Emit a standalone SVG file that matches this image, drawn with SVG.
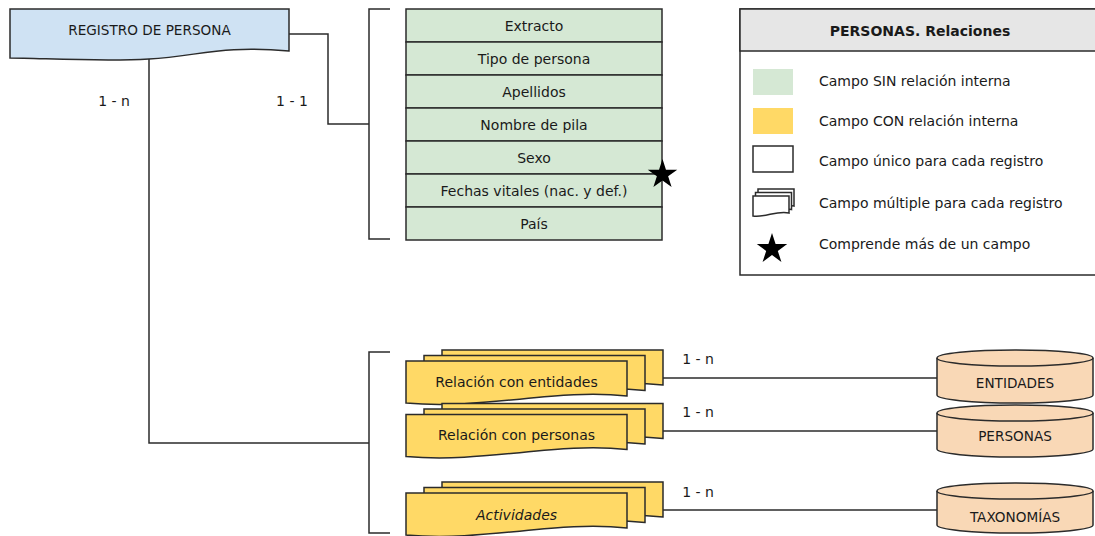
<svg xmlns="http://www.w3.org/2000/svg" width="1095" height="536" viewBox="0 0 1095 536">
<style>
text{font-family:"DejaVu Sans",Verdana,sans-serif;font-size:14px;fill:#1a1a1a}
.cap{font-size:13.6px}
.c{text-anchor:middle}
.ln{fill:none;stroke:#2b2b2b;stroke-width:1.5}
.sh{stroke:#2b2b2b;stroke-width:1.5}
.g{fill:#d5e8d4}
.y{fill:#ffd966}
.o{fill:#f9d8b6}
.b{fill:#cfe2f3}
</style>
<defs>
<path id="doc" d="M0,0 H221 V35 C150,27 80,49 0,42 Z"/>
<path id="mini" d="M0,0 H36 V17 C24,14 12,22 0,20 Z"/>
<path id="star" d="M0,-1 L0.2245,-0.309 L0.9511,-0.309 L0.3633,0.118 L0.5878,0.809 L0,0.382 L-0.5878,0.809 L-0.3633,0.118 L-0.9511,-0.309 L-0.2245,-0.309 Z"/>
</defs>
<rect width="1095" height="536" fill="#fff"/>

<g id="connectors">
<path class="ln" d="M289,34 H328 V124 H369"/>
<path class="ln" d="M149,59 V443 H369"/>
<path class="ln" d="M662,378 H937"/>
<path class="ln" d="M662,431 H937"/>
<path class="ln" d="M662,510 H937"/>
<text class="c" x="114" y="106">1 - n</text>
<text class="c" x="292" y="106">1 - 1</text>
<text class="c" x="698" y="364">1 - n</text>
<text class="c" x="698" y="417">1 - n</text>
<text class="c" x="698" y="497">1 - n</text>
</g>

<g id="registro">
<path class="b sh" d="M10,9 H289 V51 C220,45 200,56 149,59 C100,62 40,58 10,58 Z"/>
<text class="c cap" x="149.5" y="35">REGISTRO DE PERSONA</text>
</g>

<g id="bracket-top"><path class="ln" d="M390,9 H369 V239 H390"/></g>
<g id="bracket-bottom"><path class="ln" d="M390,352 H369 V533 H390"/></g>

<g id="campos">
<rect class="g sh" x="406" y="9" width="256" height="33"/>
<rect class="g sh" x="406" y="42" width="256" height="33"/>
<rect class="g sh" x="406" y="75" width="256" height="33"/>
<rect class="g sh" x="406" y="108" width="256" height="33"/>
<rect class="g sh" x="406" y="141" width="256" height="33"/>
<rect class="g sh" x="406" y="174" width="256" height="33"/>
<rect class="g sh" x="406" y="207" width="256" height="33"/>
<text class="c" x="534" y="30.5">Extracto</text>
<text class="c" x="534" y="63.5">Tipo de persona</text>
<text class="c" x="534" y="96.5">Apellidos</text>
<text class="c" x="534" y="129.5">Nombre de pila</text>
<text class="c" x="534" y="162.5">Sexo</text>
<text class="c" x="534" y="195.5">Fechas vitales (nac. y def.)</text>
<text class="c" x="534" y="228.5">País</text>
<use href="#star" transform="translate(662.5,174.5) scale(15.5)" fill="#000"/>
</g>

<g id="rel-entidades">
<use href="#doc" class="y sh" x="442" y="350"/>
<use href="#doc" class="y sh" x="424" y="355.5"/>
<use href="#doc" class="y sh" x="406" y="361"/>
<text class="c" x="516.5" y="387">Relación con entidades</text>
</g>
<g id="rel-personas">
<use href="#doc" class="y sh" x="442" y="403.5"/>
<use href="#doc" class="y sh" x="424" y="409"/>
<use href="#doc" class="y sh" x="406" y="414.5"/>
<text class="c" x="516.5" y="440">Relación con personas</text>
</g>
<g id="actividades">
<use href="#doc" class="y sh" x="442" y="482"/>
<use href="#doc" class="y sh" x="424" y="487.5"/>
<use href="#doc" class="y sh" x="406" y="493"/>
<text class="c" x="516.5" y="520" font-style="italic">Actividades</text>
</g>

<g id="entidades">
<path class="o sh" d="M937,358 A78,8 0 0 1 1093,358 V395 A78,8 0 0 1 937,395 Z"/>
<path class="ln" d="M937,358 A78,8 0 0 0 1093,358"/>
<text class="c cap" x="1015" y="388">ENTIDADES</text>
</g>
<g id="personas">
<path class="o sh" d="M937,413 A78,8 0 0 1 1093,413 V449 A78,8 0 0 1 937,449 Z"/>
<path class="ln" d="M937,413 A78,8 0 0 0 1093,413"/>
<text class="c cap" x="1015" y="441">PERSONAS</text>
</g>
<g id="taxonomias">
<path class="o sh" d="M937,491 A78,8 0 0 1 1093,491 V525 A78,8 0 0 1 937,525 Z"/>
<path class="ln" d="M937,491 A78,8 0 0 0 1093,491"/>
<text class="c cap" x="1015" y="522">TAXONOMÍAS</text>
</g>

<g id="leyenda">
<rect x="740" y="9" width="365" height="266" fill="#fff" class="sh"/>
<rect x="740" y="9" width="365" height="42" fill="#e6e6e6" class="sh"/>
<text class="c" x="920" y="36" font-weight="bold">PERSONAS. Relaciones</text>
<rect class="g" x="753" y="69" width="40" height="26"/>
<rect class="y" x="753" y="108" width="40" height="26"/>
<rect class="sh" fill="#fff" x="753" y="146" width="40" height="26"/>
<use href="#mini" class="sh" fill="#fff" x="758" y="189"/>
<use href="#mini" class="sh" fill="#fff" x="755.5" y="192.5"/>
<use href="#mini" class="sh" fill="#fff" x="753" y="196"/>
<use href="#star" transform="translate(772,249) scale(16)" fill="#000"/>
<text x="819" y="86">Campo SIN relación interna</text>
<text x="819" y="126">Campo CON relación interna</text>
<text x="819" y="166">Campo único para cada registro</text>
<text x="819" y="208">Campo múltiple para cada registro</text>
<text x="819" y="249">Comprende más de un campo</text>
</g>
</svg>
